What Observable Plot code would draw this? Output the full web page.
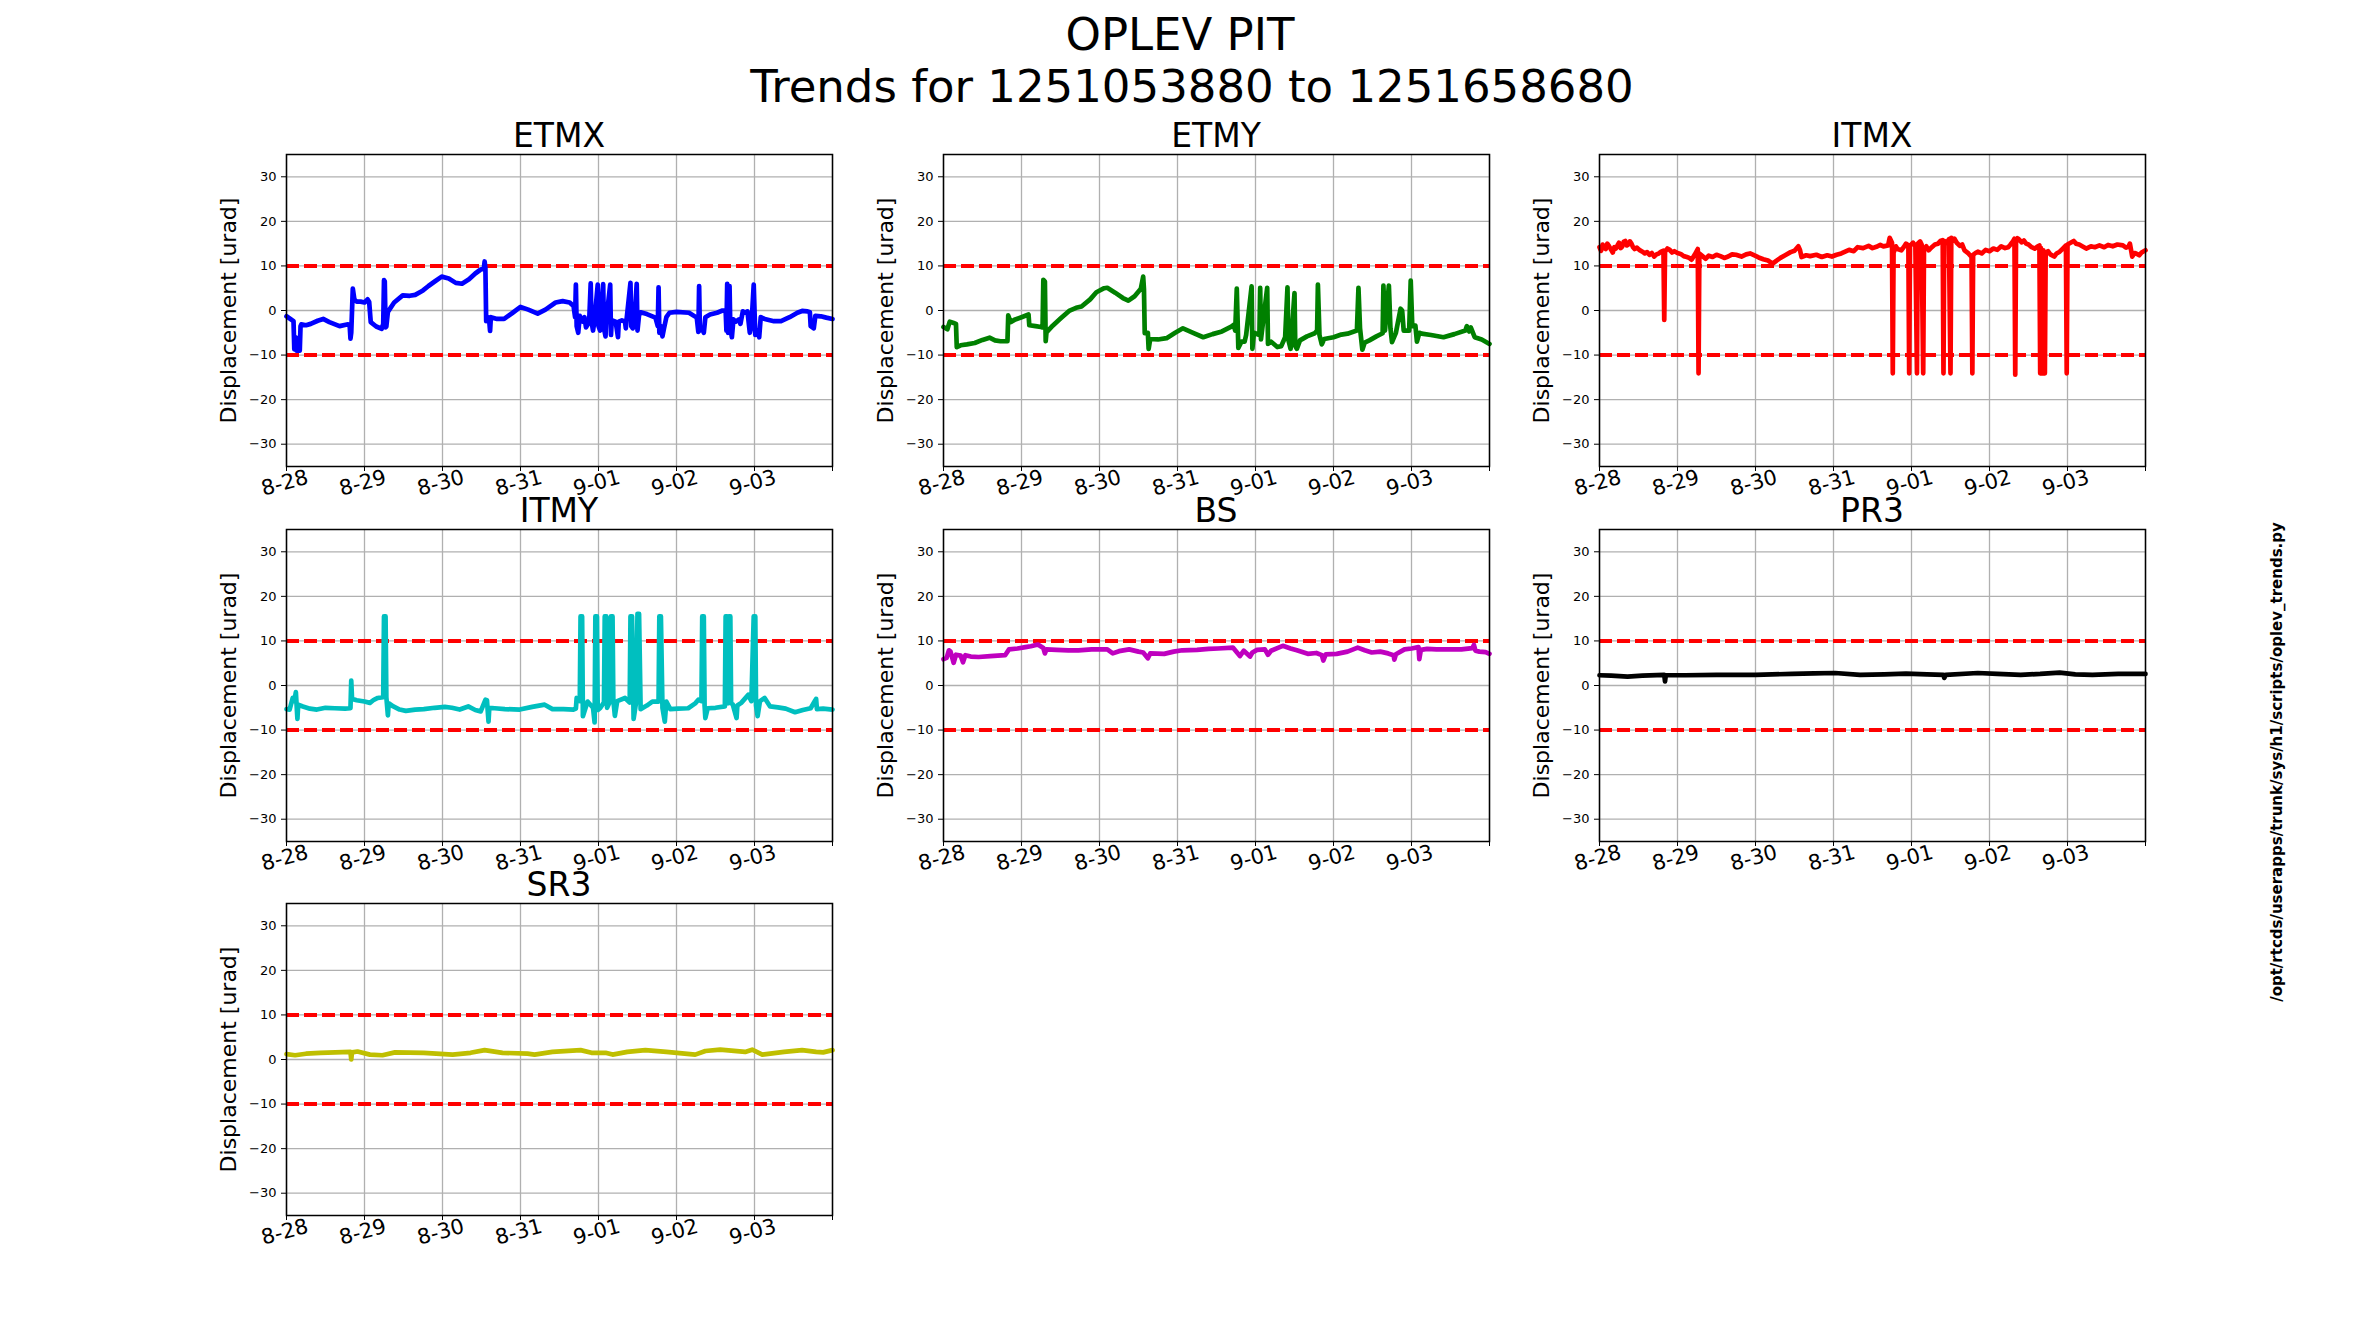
<!DOCTYPE html>
<html>
<head>
<meta charset="utf-8">
<script src="https://cdn.jsdelivr.net/npm/d3@7"></script>
<script src="https://cdn.jsdelivr.net/npm/@observablehq/plot@0.6"></script>
<style>
  html, body { margin: 0; padding: 0; background: #fff; }
  #fig { position: relative; width: 2358px; height: 1329px; background: #fff; overflow: hidden; font-family: "DejaVu Sans", sans-serif; color: #000; }
  .abs { position: absolute; white-space: nowrap; line-height: 1; }
  .ptitle { font-size: 33px; transform: translateX(-50%); }
  .mtitle { font-size: 45px; transform: translateX(-50%); }
  .side { font-size: 15px; font-weight: bold; transform: translate(-50%, -50%) rotate(-90deg); }
</style>
</head>
<body>
<div id="fig"></div>
<script>
// ---------------- data ----------------
const mainTitle = ["OPLEV PIT", "Trends for 1251053880 to 1251658680"];
const sideText = "/opt/rtcds/userapps/trunk/sys/h1/scripts/oplev_trends.py";
const panelNames = ["ETMX", "ETMY", "ITMX", "ITMY", "BS", "PR3", "SR3"];
const panelColors = ["#0000ff", "#008000", "#ff0000", "#00bfbf", "#bf00bf", "#000000", "#bfbf00"];
const tickLabels = ["8-28", "8-29", "8-30", "8-31", "9-01", "9-02", "9-03"];
const tickDays = [0, 1, 2, 3, 4, 5, 6, 7];
const yTicks = [-30, -20, -10, 0, 10, 20, 30];
const limits = [10, -10];
const yLabel = "Displacement [urad]";

// [day offset from 8-28 00:00, displacement urad]
const ETMX = [[0.00,-1.3],[0.05,-1.9],[0.09,-2.4],[0.10,-8.7],[0.12,-6.0],[0.13,-9.0],[0.15,-6.5],[0.17,-9.0],[0.18,-3.5],[0.19,-3.1],[0.25,-3.3],[0.31,-3.0],[0.40,-2.3],[0.47,-1.9],[0.55,-2.6],[0.68,-3.5],[0.79,-3.1],[0.81,-3.4],[0.82,-6.3],[0.83,-5.0],[0.85,4.9],[0.87,2.5],[0.90,2.0],[0.95,2.0],[1.00,1.8],[1.04,2.5],[1.06,1.9],[1.08,-2.6],[1.15,-3.6],[1.22,-4.1],[1.24,-3.0],[1.25,6.8],[1.26,6.5],[1.27,-3.8],[1.28,-3.6],[1.30,-0.3],[1.38,1.8],[1.49,3.4],[1.58,3.3],[1.65,3.5],[1.75,4.5],[1.82,5.5],[1.90,6.5],[1.99,7.6],[2.08,7.2],[2.17,6.2],[2.25,6.0],[2.34,7.0],[2.42,8.3],[2.49,9.2],[2.53,9.4],[2.54,11.0],[2.55,9.5],[2.56,-2.4],[2.58,-1.5],[2.60,-2.5],[2.61,-4.6],[2.62,-1.5],[2.70,-1.9],[2.79,-1.9],[2.90,-0.5],[3.00,0.8],[3.10,0.2],[3.22,-0.7],[3.32,0.2],[3.45,1.8],[3.54,2.1],[3.63,1.8],[3.68,1.0],[3.70,-1.5],[3.71,5.8],[3.72,-3.5],[3.74,-5.0],[3.76,-1.2],[3.80,-2.5],[3.82,-1.5],[3.84,-3.8],[3.88,-2.6],[3.90,6.1],[3.91,-2.5],[3.93,-4.5],[3.95,-2.0],[3.99,5.8],[4.00,-3.5],[4.02,-4.5],[4.03,-1.5],[4.06,5.9],[4.07,-4.0],[4.09,-5.8],[4.10,-2.0],[4.15,5.8],[4.16,-5.5],[4.17,-2.2],[4.22,-2.5],[4.25,-6.0],[4.26,-2.5],[4.30,-2.2],[4.34,-2.5],[4.35,-4.0],[4.36,-2.0],[4.41,6.2],[4.42,-3.5],[4.44,-4.0],[4.46,-2.5],[4.49,6.0],[4.50,-4.5],[4.52,-1.0],[4.54,-0.4],[4.62,-0.8],[4.73,-1.6],[4.76,-3.5],[4.77,5.2],[4.78,-5.0],[4.80,-3.5],[4.82,-5.8],[4.84,-4.0],[4.87,-1.5],[4.91,-0.5],[5.00,-0.3],[5.16,-0.5],[5.26,-1.6],[5.28,-4.8],[5.29,5.5],[5.30,-4.5],[5.33,-4.0],[5.35,-5.0],[5.37,-1.5],[5.43,-0.9],[5.52,-0.5],[5.59,0.0],[5.63,0.0],[5.64,-4.5],[5.65,6.0],[5.66,-5.0],[5.68,5.5],[5.69,-4.0],[5.71,-6.0],[5.73,-2.0],[5.76,-2.5],[5.80,-2.0],[5.82,-3.0],[5.85,-0.2],[5.88,-0.5],[5.91,-0.2],[5.94,-5.0],[5.96,-3.5],[5.99,5.8],[6.01,-5.5],[6.04,-4.5],[6.06,-6.0],[6.08,-1.5],[6.13,-1.9],[6.25,-2.4],[6.34,-2.4],[6.45,-1.5],[6.55,-0.5],[6.61,-0.1],[6.68,-0.2],[6.71,-0.4],[6.72,-3.5],[6.76,-4.0],[6.78,-1.2],[6.85,-1.3],[6.92,-1.6],[7.00,-1.9]];

const ETMY = [[0.00,-3.7],[0.05,-4.2],[0.08,-2.5],[0.13,-2.8],[0.16,-3.0],[0.17,-8.2],[0.22,-7.8],[0.30,-7.6],[0.40,-7.3],[0.50,-6.6],[0.59,-6.1],[0.66,-6.7],[0.73,-6.9],[0.82,-6.9],[0.83,-1.1],[0.86,-2.6],[0.92,-2.0],[1.00,-1.5],[1.09,-0.9],[1.10,-3.3],[1.18,-3.5],[1.25,-3.7],[1.27,-3.8],[1.28,6.9],[1.30,6.5],[1.31,-6.9],[1.32,-4.9],[1.40,-3.4],[1.50,-1.8],[1.61,-0.1],[1.70,0.6],[1.77,0.9],[1.88,2.5],[1.96,4.1],[2.06,5.0],[2.10,5.1],[2.20,4.0],[2.30,2.8],[2.37,2.2],[2.45,3.2],[2.53,4.9],[2.56,7.6],[2.57,4.8],[2.58,-5.1],[2.62,-5.0],[2.63,-8.6],[2.65,-6.4],[2.75,-6.5],[2.86,-6.2],[2.97,-5.0],[3.07,-4.0],[3.20,-5.0],[3.33,-6.0],[3.45,-5.3],[3.57,-4.7],[3.69,-3.6],[3.72,-3.2],[3.74,-4.5],[3.76,4.9],[3.78,-8.4],[3.82,-7.0],[3.86,-7.0],[3.88,-5.5],[3.95,5.4],[3.96,-8.6],[3.98,-5.0],[4.05,-5.5],[4.06,5.1],[4.07,-6.5],[4.15,5.1],[4.16,-7.5],[4.20,-7.0],[4.28,-8.2],[4.33,-8.0],[4.38,-6.0],[4.41,5.2],[4.42,-6.5],[4.45,-8.6],[4.50,3.9],[4.51,-8.0],[4.53,-8.6],[4.57,-6.7],[4.66,-5.8],[4.76,-5.1],[4.79,-4.5],[4.80,5.8],[4.82,-5.5],[4.85,-7.6],[4.88,-6.4],[5.00,-6.0],[5.10,-5.4],[5.18,-5.2],[5.30,-4.5],[5.32,5.1],[5.34,-4.0],[5.37,-8.8],[5.40,-7.2],[5.46,-6.7],[5.55,-5.8],[5.63,-5.1],[5.64,5.6],[5.66,-4.5],[5.71,5.6],[5.73,-4.0],[5.75,-7.1],[5.80,-5.0],[5.86,0.4],[5.88,0.0],[5.90,-4.5],[5.97,-4.5],[5.99,6.7],[6.01,-3.5],[6.05,-3.4],[6.07,-7.0],[6.10,-5.0],[6.13,-5.2],[6.25,-5.5],[6.41,-6.0],[6.55,-5.3],[6.69,-4.5],[6.71,-3.5],[6.74,-4.7],[6.76,-3.8],[6.81,-6.0],[6.90,-6.5],[7.00,-7.5]];

const ITMX = [[0.00,14.2],[0.02,13.4],[0.04,14.8],[0.06,14.1],[0.08,13.8],[0.10,15.0],[0.12,14.5],[0.15,13.6],[0.17,13.0],[0.19,14.2],[0.21,13.9],[0.23,14.6],[0.25,15.2],[0.27,14.0],[0.29,14.3],[0.31,15.4],[0.33,15.6],[0.35,14.6],[0.37,14.8],[0.39,15.5],[0.41,15.0],[0.43,14.2],[0.45,13.8],[0.48,14.1],[0.51,13.6],[0.55,13.2],[0.58,12.8],[0.61,13.1],[0.64,12.5],[0.67,12.9],[0.70,12.1],[0.73,12.6],[0.76,12.8],[0.79,13.2],[0.82,13.4],[0.83,-2.1],[0.84,13.2],[0.87,13.9],[0.90,13.6],[0.93,13.0],[0.96,13.3],[1.00,12.9],[1.04,12.7],[1.08,12.2],[1.12,12.0],[1.15,11.8],[1.18,11.4],[1.22,12.5],[1.26,13.8],[1.27,-14.1],[1.28,12.8],[1.32,12.2],[1.36,11.6],[1.40,12.3],[1.45,12.0],[1.50,12.5],[1.55,12.2],[1.60,11.8],[1.65,12.1],[1.70,12.6],[1.75,12.5],[1.82,12.1],[1.88,12.6],[1.93,12.8],[1.98,12.4],[2.04,11.9],[2.10,11.5],[2.16,11.2],[2.22,10.5],[2.27,11.2],[2.32,11.8],[2.38,12.4],[2.45,13.1],[2.50,13.4],[2.55,14.4],[2.57,13.6],[2.59,12.0],[2.65,12.4],[2.70,12.2],[2.78,12.5],[2.85,12.0],[2.92,12.4],[2.98,12.1],[3.04,12.5],[3.10,12.8],[3.15,13.2],[3.20,13.6],[3.26,13.3],[3.31,14.2],[3.38,14.0],[3.45,14.5],[3.50,14.0],[3.55,14.3],[3.60,14.7],[3.64,14.4],[3.70,14.6],[3.72,16.3],[3.75,15.2],[3.76,-14.1],[3.77,13.0],[3.80,14.4],[3.82,13.8],[3.87,13.5],[3.90,14.2],[3.93,15.0],[3.96,14.6],[3.97,-14.1],[3.98,14.5],[4.02,15.2],[4.05,14.4],[4.07,-14.1],[4.08,15.0],[4.11,15.5],[4.13,14.8],[4.15,-14.1],[4.16,13.8],[4.19,14.4],[4.22,13.5],[4.26,14.2],[4.30,14.8],[4.34,15.0],[4.37,15.6],[4.40,15.8],[4.41,-14.1],[4.42,15.6],[4.45,15.2],[4.48,16.0],[4.50,-14.1],[4.51,16.3],[4.53,15.6],[4.55,16.1],[4.58,15.2],[4.62,14.5],[4.65,14.8],[4.68,13.5],[4.73,12.8],[4.77,12.0],[4.78,-14.1],[4.79,12.5],[4.82,12.9],[4.85,13.2],[4.90,12.8],[4.95,13.6],[5.00,13.3],[5.05,13.9],[5.10,13.6],[5.15,14.4],[5.20,14.0],[5.24,14.2],[5.27,14.8],[5.30,15.5],[5.32,16.1],[5.33,-14.4],[5.34,15.5],[5.36,16.2],[5.38,15.9],[5.41,15.3],[5.44,15.7],[5.47,15.0],[5.50,14.8],[5.54,14.2],[5.58,13.9],[5.61,14.3],[5.64,14.6],[5.65,-14.1],[5.66,14.0],[5.68,-14.1],[5.69,13.5],[5.71,-14.1],[5.72,13.0],[5.75,13.3],[5.78,12.6],[5.83,12.1],[5.86,12.8],[5.90,13.2],[5.94,13.9],[5.98,14.6],[5.99,-14.1],[6.00,14.8],[6.04,15.2],[6.08,15.6],[6.11,15.0],[6.15,14.8],[6.20,14.3],[6.24,13.9],[6.30,14.4],[6.35,14.2],[6.41,14.6],[6.47,14.2],[6.52,14.7],[6.58,14.4],[6.64,14.8],[6.71,14.6],[6.75,14.1],[6.78,14.3],[6.80,15.0],[6.83,12.1],[6.86,12.9],[6.88,12.8],[6.92,12.4],[6.95,13.0],[7.00,13.5]];

const ITMY = [[0.00,-5.3],[0.04,-5.4],[0.08,-2.8],[0.10,-3.5],[0.12,-1.5],[0.14,-7.5],[0.15,-4.3],[0.21,-4.7],[0.30,-5.2],[0.39,-5.4],[0.50,-5.0],[0.62,-5.1],[0.75,-5.2],[0.82,-5.1],[0.83,1.1],[0.84,-3.0],[0.90,-3.3],[1.00,-3.6],[1.07,-3.9],[1.12,-3.2],[1.17,-2.8],[1.24,-2.6],[1.25,15.5],[1.27,15.5],[1.28,-2.6],[1.30,-6.7],[1.31,-4.0],[1.37,-4.7],[1.45,-5.4],[1.53,-5.7],[1.65,-5.4],[1.76,-5.3],[1.90,-5.0],[2.03,-4.8],[2.12,-5.0],[2.22,-5.4],[2.33,-4.7],[2.42,-5.5],[2.49,-5.8],[2.55,-3.2],[2.57,-3.3],[2.59,-8.1],[2.60,-5.0],[2.67,-5.1],[2.80,-5.3],[2.99,-5.4],[3.15,-4.8],[3.31,-4.3],[3.41,-5.3],[3.55,-5.3],[3.68,-5.4],[3.71,-5.2],[3.72,-2.8],[3.76,-3.5],[3.77,15.5],[3.79,15.5],[3.80,-6.9],[3.86,-3.6],[3.93,-5.0],[3.95,-8.3],[3.96,15.5],[3.98,15.5],[3.99,-5.5],[4.02,-5.1],[4.07,-3.8],[4.08,15.5],[4.10,15.5],[4.11,-5.0],[4.15,-3.5],[4.16,15.5],[4.18,15.5],[4.19,-3.2],[4.21,-6.8],[4.24,-3.5],[4.34,-2.8],[4.40,-3.8],[4.41,15.5],[4.43,15.5],[4.45,-7.5],[4.48,-4.0],[4.50,16.1],[4.52,16.1],[4.54,-5.3],[4.62,-4.5],[4.69,-3.6],[4.77,-3.6],[4.78,15.5],[4.80,15.5],[4.82,-5.0],[4.85,-8.1],[4.87,-3.6],[4.92,-5.3],[5.02,-5.2],[5.15,-5.1],[5.24,-4.0],[5.28,-3.2],[5.32,-3.5],[5.33,15.5],[5.35,15.5],[5.36,-4.5],[5.37,-7.3],[5.40,-5.1],[5.50,-5.0],[5.62,-4.7],[5.63,15.5],[5.65,15.5],[5.66,-4.0],[5.67,15.5],[5.69,15.5],[5.70,-4.0],[5.72,-4.2],[5.77,-7.3],[5.78,-4.5],[5.83,-3.9],[5.92,-2.1],[5.96,-3.5],[5.99,15.5],[6.01,15.5],[6.02,-4.5],[6.04,-6.9],[6.07,-3.5],[6.13,-2.8],[6.20,-4.7],[6.30,-4.9],[6.40,-5.2],[6.52,-6.0],[6.62,-5.5],[6.72,-5.1],[6.77,-3.6],[6.79,-3.0],[6.80,-5.3],[6.88,-5.2],[7.00,-5.4]];

const BS = [[0.00,5.9],[0.04,6.2],[0.07,7.9],[0.09,7.6],[0.13,5.1],[0.16,6.9],[0.22,6.7],[0.25,5.2],[0.28,6.8],[0.35,6.5],[0.45,6.4],[0.60,6.6],[0.79,6.8],[0.84,8.1],[0.95,8.3],[1.05,8.6],[1.12,8.8],[1.21,9.2],[1.28,8.4],[1.30,7.2],[1.32,8.1],[1.45,8.0],[1.60,7.9],[1.73,7.9],[1.90,8.1],[2.10,8.1],[2.17,7.2],[2.25,7.7],[2.38,8.1],[2.50,7.6],[2.56,7.4],[2.62,6.1],[2.65,7.2],[2.83,7.1],[2.95,7.6],[3.06,7.9],[3.25,8.0],[3.40,8.2],[3.52,8.3],[3.71,8.5],[3.80,6.6],[3.85,7.8],[3.93,6.5],[3.96,7.4],[4.02,8.0],[4.12,8.1],[4.16,6.9],[4.20,7.8],[4.28,8.4],[4.35,8.9],[4.45,8.3],[4.53,7.9],[4.67,7.1],[4.78,7.3],[4.85,6.8],[4.87,5.6],[4.90,7.0],[5.04,7.1],[5.18,7.6],[5.31,8.5],[5.40,7.9],[5.49,7.4],[5.60,7.6],[5.70,7.2],[5.77,6.8],[5.78,5.8],[5.80,7.0],[5.91,8.1],[6.00,8.3],[6.09,8.6],[6.10,5.9],[6.12,8.0],[6.20,8.2],[6.32,8.1],[6.50,8.1],[6.64,8.1],[6.78,8.4],[6.80,9.1],[6.82,7.8],[6.87,7.6],[6.95,7.5],[7.00,7.1]];

const PR3 = [[0.00,2.3],[0.15,2.2],[0.36,2.0],[0.55,2.2],[0.83,2.4],[0.84,0.9],[0.85,2.3],[1.10,2.3],[1.50,2.4],[2.00,2.4],[2.47,2.6],[2.75,2.7],[3.02,2.8],[3.34,2.4],[3.65,2.5],[3.93,2.65],[4.20,2.5],[4.41,2.4],[4.42,1.7],[4.44,2.4],[4.85,2.8],[5.10,2.6],[5.40,2.4],[5.65,2.6],[5.90,2.9],[6.10,2.5],[6.32,2.4],[6.65,2.6],[7.00,2.6]];

const SR3 = [[0.00,1.2],[0.11,0.95],[0.25,1.3],[0.43,1.5],[0.82,1.7],[0.83,0.0],[0.84,1.6],[0.91,1.8],[1.07,1.1],[1.23,0.95],[1.39,1.6],[1.76,1.5],[2.13,1.1],[2.36,1.5],[2.54,2.1],[2.77,1.5],[3.09,1.3],[3.18,1.1],[3.41,1.7],[3.77,2.1],[3.91,1.5],[4.09,1.5],[4.18,1.1],[4.37,1.7],[4.60,2.1],[4.87,1.7],[5.24,1.1],[5.37,1.9],[5.56,2.2],[5.88,1.7],[5.97,2.2],[6.10,1.1],[6.38,1.7],[6.61,2.1],[6.79,1.7],[6.88,1.6],[7.00,2.1]];

const panelSeries = [ETMX, ETMY, ITMX, ITMY, BS, PR3, SR3];

// ---------------- layout ----------------
const colLeft = [286, 943, 1599];
const rowTop = [154, 529, 903];
const axW = 546, axH = 312;
const mL = 100, mR = 24, mT = 10, mB = 60;

const T0 = Date.UTC(2019, 7, 28);
const toDate = d => new Date(T0 + d * 86400000);
const fmtY = v => (v < 0 ? "\u2212" + Math.abs(v) : String(v));

const fig = document.getElementById("fig");

function addDiv(cls, text, left, top) {
  const el = document.createElement("div");
  el.className = "abs " + cls;
  el.textContent = text;
  el.style.left = left + "px";
  el.style.top = top + "px";
  fig.appendChild(el);
  return el;
}

// main title
addDiv("mtitle", mainTitle[0], 1180, 50 - 0.846 * 45);
addDiv("mtitle", mainTitle[1], 1192, 102 - 0.846 * 45);
// side text
addDiv("side", sideText, 2277, 762);

const gridDates = tickDays.map(toDate);
const labelData = tickLabels.map((s, i) => ({t: toDate(i), s}));

panelNames.forEach((name, i) => {
  const col = i % 3, row = Math.floor(i / 3);
  const data = panelSeries[i].map(([d, v]) => ({t: toDate(d), v}));
  const svg = Plot.plot({
    width: axW + mL + mR,
    height: axH + mT + mB,
    marginLeft: mL, marginRight: mR, marginTop: mT, marginBottom: mB,
    x: {type: "utc", domain: [toDate(0), toDate(7)]},
    y: {domain: [-35, 35]},
    style: {fontFamily: "DejaVu Sans", fontSize: "13px", color: "black", background: "transparent", overflow: "visible"},
    marks: [
      Plot.gridX(gridDates, {stroke: "#b0b0b0", strokeOpacity: 1, strokeWidth: 1.3}),
      Plot.gridY(yTicks, {stroke: "#b0b0b0", strokeOpacity: 1, strokeWidth: 1.3}),
      Plot.ruleY(limits, {stroke: "#ff0000", strokeWidth: 4, strokeDasharray: "13,5"}),
      Plot.line(data, {x: "t", y: "v", stroke: panelColors[i], strokeWidth: 4.7, strokeLinejoin: "round"}),
      Plot.frame({stroke: "black", strokeWidth: 1.5}),
      Plot.axisY(yTicks, {tickSize: 5, tickPadding: 5, fontSize: 13, tickFormat: fmtY, label: null}),
      Plot.axisX(gridDates, {tickSize: 5, tickFormat: () => "", label: null}),
      Plot.text(labelData, {x: "t", text: "s", frameAnchor: "bottom", dy: 23, rotate: -15, fontSize: 21, textAnchor: "middle"}),
      Plot.text([yLabel], {text: d => d, frameAnchor: "left", dx: -58, rotate: -90, fontSize: 22, textAnchor: "middle"})
    ]
  });
  svg.style.position = "absolute";
  svg.style.left = (colLeft[col] - mL) + "px";
  svg.style.top = (rowTop[row] - mT) + "px";
  fig.appendChild(svg);
  addDiv("ptitle", name, colLeft[col] + axW / 2, rowTop[row] - 7 - 0.846 * 33);
});
</script>
</body>
</html>
